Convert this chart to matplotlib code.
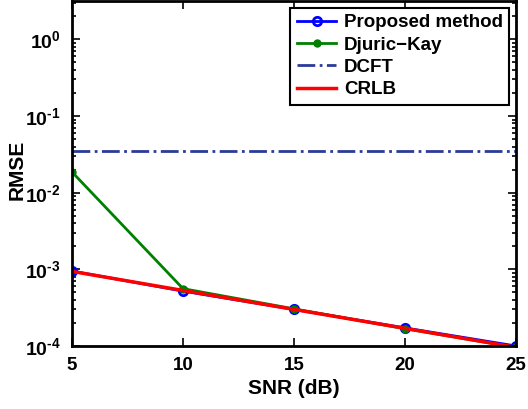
import matplotlib
matplotlib.use("Agg")
import matplotlib.pyplot as plt
import numpy as np

plt.rcParams['font.family'] = ['Liberation Sans', 'DejaVu Sans']
plt.rcParams['font.weight'] = 'bold'
plt.rcParams['mathtext.default'] = 'bf'
plt.rcParams['mathtext.fontset'] = 'custom'
plt.rcParams['mathtext.bf'] = 'Liberation Sans:bold'
plt.rcParams['mathtext.rm'] = 'Liberation Sans:bold'

snr = [5, 10, 15, 20, 25]
proposed = [9.5e-4, 5.2e-4, 3.0e-4, 1.72e-4, 1.0e-4]
djuric = [1.86e-2, 5.6e-4, 3.05e-4, 1.68e-4, 9.6e-5]
dcft = [3.5e-2, 3.5e-2, 3.5e-2, 3.5e-2, 3.5e-2]
crlb = [9.4e-4, 5.3e-4, 3.0e-4, 1.7e-4, 9.6e-5]
ytick_vals = [1e-4, 1e-3, 1e-2, 1e-1, 1e0]
ytick_labels = [r'$\mathbf{10^{\text{-}4}}$', r'$\mathbf{10^{\text{-}3}}$',
                r'$\mathbf{10^{\text{-}2}}$', r'$\mathbf{10^{\text{-}1}}$',
                r'$\mathbf{10^{0}}$']

fig = plt.figure(figsize=(5.28, 4.09), dpi=100)
ax = fig.add_axes([72/528, 1-346/409, (516-72)/528, 345/409])

ax.semilogy(snr, proposed, '-o', color='blue', lw=2, ms=6, mfc='none', mew=2, label='Proposed method')
ax.semilogy(snr, djuric, '-o', color=(0, 0.5, 0), lw=2, ms=5, label='Djuric\u2212Kay')
ax.semilogy(snr, dcft, '-.', color=(0.17, 0.23, 0.6), lw=2, label='DCFT')
ax.semilogy(snr, crlb, '-', color='red', lw=2.5, label='CRLB')

ax.set_xlim(5, 25)
ax.set_ylim(1e-4, 10**0.5)
ax.set_xticks(snr)
ax.set_yticks(ytick_vals, ytick_labels)
ax.tick_params(which='both', direction='in', top=True, right=True, width=1.2)
ax.tick_params(axis='y', labelsize=14, pad=8)
ax.tick_params(axis='x', labelsize=13.5, pad=8)
ax.tick_params(which='major', length=6)
ax.tick_params(which='minor', length=3)
for s in ax.spines.values():
    s.set_linewidth(2)
for lab in ax.get_xticklabels() + ax.get_yticklabels():
    lab.set_fontweight('bold')
ax.set_xlabel('SNR (dB)', fontsize=15, fontweight='bold')
ax.set_ylabel('RMSE', fontsize=15, fontweight='bold')
ax.xaxis.set_label_coords(0.5, -0.095)
ax.yaxis.set_label_coords(-0.103, 0.51)

leg = ax.legend(loc='upper right', prop={'weight': 'bold', 'size': 13.5},
                fancybox=False, framealpha=1, edgecolor='black', borderpad=0.35,
                labelspacing=0.28, handlelength=2.1, handletextpad=0.4, borderaxespad=0.35)
leg.get_frame().set_linewidth(1.5)

fig.savefig('out.png', dpi=100)
